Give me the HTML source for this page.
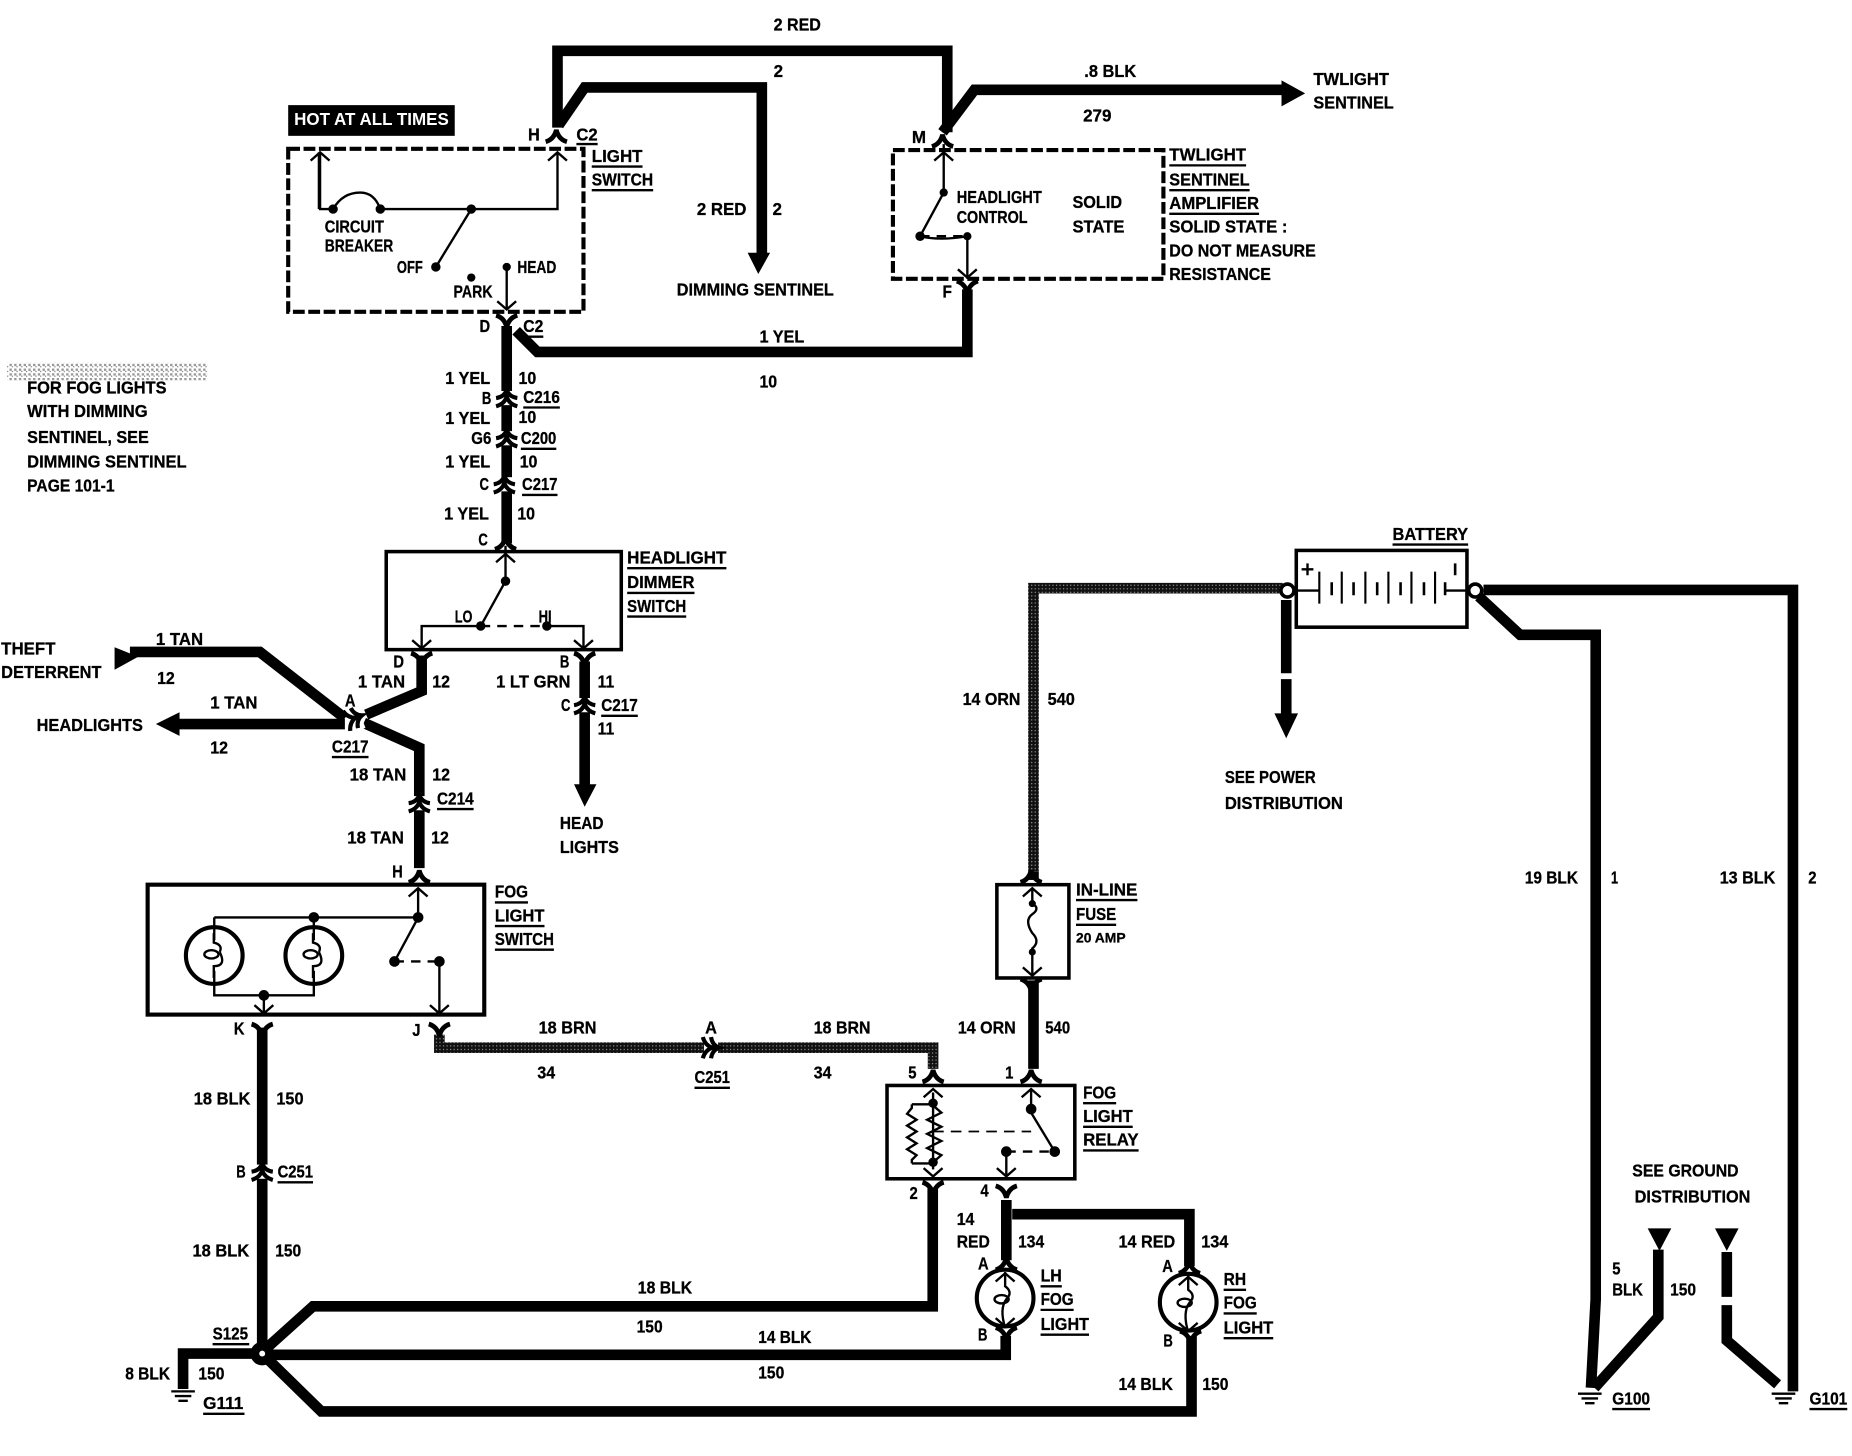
<!DOCTYPE html>
<html><head><meta charset="utf-8"><style>
html,body{margin:0;padding:0;background:#fff}
svg{display:block}
text{font-family:"Liberation Sans",sans-serif;font-weight:bold;font-size:15px;fill:#000;stroke:#000;stroke-width:.25px}
</style></head><body>
<svg width="1852" height="1456" viewBox="0 0 1568 1232.7" xmlns="http://www.w3.org/2000/svg">
<defs>
<pattern id="dz" width="3" height="3" patternUnits="userSpaceOnUse"><rect width="3" height="3" fill="#111"/><rect width="1" height="1" fill="#999"/></pattern>
<pattern id="np" width="4" height="4" patternUnits="userSpaceOnUse"><rect width="4" height="4" fill="#fff"/><rect width="2" height="2" fill="#999"/><rect x="2" y="2" width="1" height="1" fill="#777"/></pattern>
<path id="fd" d="M-9 6Q-2 4 0-4Q2 4 9 6" fill="none" stroke="#000" stroke-width="4"/>
<path id="fu" d="M-9-6Q-2-4 0 4Q2-4 9-6" fill="none" stroke="#000" stroke-width="4"/>
<g id="cn"><rect x="-11" y="-6" width="22" height="12" fill="#fff"/><path d="M-9 0Q-2-1 0-7Q2-1 9 0M-9 7Q-2 5 0-1Q2 5 9 7" fill="none" stroke="#000" stroke-width="3.5"/></g>
<path id="au" d="M-8 7L0 0L8 7" fill="none" stroke="#000" stroke-width="2"/>
<path id="ad" d="M-8-7L0 0L8-7" fill="none" stroke="#000" stroke-width="2"/>
<path id="gnd" d="M-10 0H10M-7 4H7M-4 8H4" fill="none" stroke="#000" stroke-width="2"/>
</defs>

<!-- main wires -->
<g fill="none" stroke="#000" stroke-width="9" stroke-linejoin="miter">
<path d="M472 108V43H802V112"/>
<path d="M473 106L495 74H645V215"/>
<path d="M798 112L825 76H1088"/>
<path d="M819 245V298H455L437 280"/>
<path d="M429 276V460" />
<path d="M357 555V585L310 605"/>
<path d="M110 552H220L292 608"/>
<path d="M148 613H292"/>
<path d="M308 612L355 633V735"/>
<path d="M495 560V665"/>
<path d="M222 870V1140"/>
<path d="M789.700 1006V1106H265L225 1142"/>
<path d="M852 1016V1067"/>
<path d="M857 1028H1007V1072"/>
<path d="M851.500 1131V1147H225"/>
<path d="M1008.800 1131V1195H272L226 1150"/>
<path d="M222 1146H155V1176"/>
<path d="M875 830V905"/>
<path d="M875 738V745"/>
<path d="M1256 499.500H1518V1178"/>
<path d="M1252 505L1287 537.500H1351V1100L1347 1175"/>
<path d="M1404 1058V1115L1350 1175"/>
<path d="M1462 1060V1098M1462 1105V1135L1505 1172"/>
<path d="M1089 508V570M1089 575V605"/>
</g>
<g fill="none" stroke="url(#dz)" stroke-width="9">
<path d="M1086 498H875V738"/>
<path d="M372 876V887H790V905"/>
</g>

<!-- arrowheads / triangles -->
<path d="M1085 68L1105 79L1085 90ZM633 214H652L642 232ZM1079 604H1099L1089 625ZM486 664H505L495 683ZM132 613L152 603V623ZM97 548L117 556L97 567ZM1395 1040H1415L1405 1059ZM1452 1040H1472L1462 1059Z" fill="#000"/>

<!-- HOT -->
<rect x="244" y="89" width="141" height="26" fill="#000"/>
<text x="249" y="106" textLength="131" lengthAdjust="spacingAndGlyphs" style="fill:#fff;stroke:none">HOT AT ALL TIMES</text>

<!-- dashed boxes -->
<g fill="none" stroke="#000" stroke-width="3.500" stroke-dasharray="10 3">
<rect x="244" y="126" width="250" height="138"/>
<rect x="756" y="127" width="229" height="109"/>
</g>
<!-- solid boxes -->
<g fill="none" stroke="#000" stroke-width="3">
<rect x="327" y="467" width="199" height="83"/>
<rect x="125" y="749" width="285" height="110" stroke-width="3.500"/>
<rect x="844" y="749" width="61" height="79"/>
<rect x="751" y="919" width="159" height="79"/>
<rect x="1097.500" y="466" width="144.500" height="65"/>
</g>

<!-- thin internals -->
<g fill="none" stroke="#000" stroke-width="2">
<path d="M271 129V177H282Q290 163 305 163Q317 163 322 177H472V129"/>
<path d="M399 177L369 226"/>
<path d="M429 226V262"/>
<path d="M799 122V163L779 200"/>
<path d="M779 200Q795 204 819 200V236"/>
<path d="M428 462V492L407 530"/>
<path d="M357 550V530H407M494 550V530H463"/>
<path d="M354 752V777M181.400 776.700H354M181.400 776.700V796M265.700 776.700V796M181.400 822V842.700H265.700V822M223.400 842.700V858"/>
<path d="M181 790V798Q189 800 186 806M181 828V818Q192 818 186 806M265 790V798Q273 800 270 806M265 828V818Q276 818 270 806"/>
<path d="M354 777L334 814"/>
<path d="M372 814V858"/>
<path d="M874 752V765Q881 769 874 774Q867 779 874 790Q881 797 874 803V826"/>
<path d="M790 925V990M772 935H790M772 985H790M772 935V938L768 943L776 948L768 953L776 958L768 963L776 968L768 973L776 978L772 982V985"/>
<path d="M790 936L797 942L785 948L797 954L785 960L797 966L785 972L797 978L790 984"/>
<path d="M873 922V942L893 975"/>
<path d="M852 975V996"/>
<path d="M851 1077V1089Q858 1094 852 1100Q846 1108 851 1124"/>
<path d="M1006 1079V1092Q1013 1097 1007 1103Q1001 1111 1006 1128"/>
<path d="M1098 500H1117M1224 500H1243"/>
<path d="M270 129V177"/>
</g>
<path d="M790 958H873" fill="none" stroke="#000" stroke-width="1.500" stroke-dasharray="9 6"/>
<path d="M334 814H372M852 975H893M407 530H463M779 200H819" fill="none" stroke="#000" stroke-width="2" stroke-dasharray="8 6"/>

<!-- lamps -->
<g fill="none" stroke="#000" stroke-width="3.500">
<circle cx="181.400" cy="809" r="24"/><circle cx="265.700" cy="809" r="24"/>
<circle cx="851" cy="1099" r="24"/><circle cx="1006" cy="1102.500" r="24"/>
</g>
<g fill="none" stroke="#000" stroke-width="2">
<ellipse cx="179" cy="808" rx="6" ry="3.500"/><ellipse cx="263" cy="808" rx="6" ry="3.500"/>
<ellipse cx="848" cy="1100" rx="6" ry="3.500"/><ellipse cx="1003" cy="1103" rx="6" ry="3.500"/>
</g>

<!-- dots -->
<g fill="#000">
<circle cx="282" cy="177" r="4"/><circle cx="322" cy="177" r="4"/><circle cx="399" cy="177" r="4"/><circle cx="369" cy="226" r="4"/><circle cx="429" cy="226" r="3.500"/><circle cx="399" cy="235" r="3.500"/>
<circle cx="799" cy="163" r="3.500"/><circle cx="779" cy="200" r="4"/><circle cx="819" cy="200" r="3.500"/>
<circle cx="428" cy="492" r="4"/><circle cx="407" cy="530" r="4"/><circle cx="463" cy="530" r="4"/>
<circle cx="265.700" cy="776.700" r="4.500"/><circle cx="354" cy="776.700" r="4.500"/><circle cx="223.400" cy="842.700" r="4.500"/><circle cx="334" cy="814" r="4.500"/><circle cx="372" cy="814" r="4.500"/>
<circle cx="874" cy="765" r="3"/><circle cx="874" cy="806" r="3"/>
<circle cx="790" cy="934" r="4"/><circle cx="790" cy="984" r="4"/><circle cx="873" cy="939" r="4.500"/><circle cx="893" cy="975" r="4.500"/><circle cx="852" cy="975" r="4.500"/>
<circle cx="222" cy="1146" r="10"/>
</g>
<circle cx="222" cy="1146" r="2.500" fill="#fff"/>
<circle cx="1090" cy="500" r="5.500" fill="#fff" stroke="#000" stroke-width="3"/>
<circle cx="1249" cy="500" r="5.500" fill="#fff" stroke="#000" stroke-width="3"/>

<!-- battery cells -->
<path d="M1117 484V511M1136 484V511M1156 484V511M1175.500 484V511M1195 484V511M1215 484V511" stroke="#000" stroke-width="1.800" fill="none"/>
<path d="M1127.500 493V504M1146 493V504M1166 493V504M1185.800 493V504M1205.600 493V504M1223.500 493V504M1232 477V487" stroke="#000" stroke-width="2.200" fill="none"/>
<path d="M1102 482H1112M1107 477V487" stroke="#000" stroke-width="2" fill="none"/>

<!-- connectors -->
<use href="#fd" x="471" y="114"/><use href="#fd" x="798" y="118"/>
<use href="#fu" x="819" y="244"/><use href="#fu" x="429" y="273"/>
<use href="#cn" x="429" y="337"/><use href="#cn" x="429" y="371"/><use href="#cn" x="427" y="410"/>
<use href="#fd" x="428" y="459"/>
<use href="#fu" x="357" y="559"/><use href="#fu" x="495" y="559"/>
<use href="#cn" x="495" y="597"/><use href="#cn" x="355" y="680"/>
<use href="#fd" x="355" y="741"/>
<use href="#fu" x="222" y="873"/><use href="#fu" x="372" y="873"/>
<use href="#cn" x="222" y="992"/>
<use href="#fd" x="873" y="741"/><use href="#fu" x="873" y="835"/>
<use href="#fd" x="790" y="910"/><use href="#fd" x="873" y="910"/>
<use href="#fu" x="790" y="1007"/><use href="#fu" x="852" y="1010"/>
<use href="#fd" x="852" y="1069"/><use href="#fd" x="1007" y="1072"/>
<use href="#fu" x="852" y="1130"/><use href="#fu" x="1008" y="1133"/>
<use href="#cn" transform="translate(602 887) rotate(90)"/>
<use href="#cn" transform="translate(300 608) rotate(70)"/>

<!-- chevrons inside boxes -->
<use href="#au" x="271" y="129"/><use href="#au" x="472" y="129"/><use href="#ad" x="429" y="262"/>
<use href="#au" x="799" y="129"/><use href="#ad" x="819" y="235"/>
<use href="#au" x="428" y="469"/><use href="#ad" x="357" y="549"/><use href="#ad" x="494" y="549"/>
<use href="#au" x="354" y="752"/><use href="#ad" x="223.400" y="858"/><use href="#ad" x="372" y="858"/>
<use href="#au" x="874" y="752"/><use href="#ad" x="874" y="826"/>
<use href="#au" x="790" y="922"/><use href="#au" x="873" y="922"/><use href="#ad" x="790" y="996"/><use href="#ad" x="852" y="996"/>
<use href="#au" x="851" y="1078"/><use href="#ad" x="851" y="1123"/><use href="#au" x="1006" y="1081"/><use href="#ad" x="1006" y="1127"/>

<!-- grounds -->
<use href="#gnd" x="155" y="1178"/><use href="#gnd" x="1346" y="1180"/><use href="#gnd" x="1510" y="1180"/>

<!-- grey patch -->
<rect x="6" y="307" width="170" height="15" fill="url(#np)"/>

<!-- underlines -->
<path d="M488 122H506M501 141H544M501 161H553M443 285H460M443 345H474M441 380H471M442 419H472M990 140H1055M990 161H1058M990 181H1066M531 481H615M531 502H588M531 522H581M509 606H540M281 641H312M370 685H401M419 764H447M419 784H461M419 804H469M235 1001H265M588 921H618M911 762H963M911 783H945M917 934H945M917 954H959M917 974H964M881 1089H899M881 1109H909M881 1130H922M1036 1092H1055M1036 1112H1064M1036 1133H1078M180 1138H211M172 1197H207M1179 461H1243M1365 1193H1397M1532 1193H1564" stroke="#000" stroke-width="2" fill="none"/>

<!-- labels -->
<text x="655" y="26" textLength="40" lengthAdjust="spacingAndGlyphs">2 RED</text>
<text x="655" y="65" textLength="8" lengthAdjust="spacingAndGlyphs">2</text>
<text x="918" y="65" textLength="44" lengthAdjust="spacingAndGlyphs">.8 BLK</text>
<text x="917" y="103" textLength="24" lengthAdjust="spacingAndGlyphs">279</text>
<text x="1112" y="72" textLength="64" lengthAdjust="spacingAndGlyphs">TWLIGHT</text>
<text x="1112" y="92" textLength="68" lengthAdjust="spacingAndGlyphs">SENTINEL</text>
<text x="447" y="119" textLength="10" lengthAdjust="spacingAndGlyphs">H</text>
<text x="488" y="119" textLength="18" lengthAdjust="spacingAndGlyphs">C2</text>
<text x="501" y="137" textLength="43" lengthAdjust="spacingAndGlyphs">LIGHT</text>
<text x="501" y="157" textLength="52" lengthAdjust="spacingAndGlyphs">SWITCH</text>
<text x="275" y="197" textLength="50" lengthAdjust="spacingAndGlyphs">CIRCUIT</text>
<text x="275" y="213" textLength="58" lengthAdjust="spacingAndGlyphs">BREAKER</text>
<text x="336" y="231" textLength="22" lengthAdjust="spacingAndGlyphs">OFF</text>
<text x="438" y="231" textLength="33" lengthAdjust="spacingAndGlyphs">HEAD</text>
<text x="384" y="252" textLength="33" lengthAdjust="spacingAndGlyphs">PARK</text>
<text x="590" y="182" textLength="42" lengthAdjust="spacingAndGlyphs">2 RED</text>
<text x="654" y="182" textLength="8" lengthAdjust="spacingAndGlyphs">2</text>
<text x="573" y="250" textLength="133" lengthAdjust="spacingAndGlyphs">DIMMING SENTINEL</text>
<text x="772" y="121" textLength="12" lengthAdjust="spacingAndGlyphs">M</text>
<text x="810" y="172" textLength="72" lengthAdjust="spacingAndGlyphs">HEADLIGHT</text>
<text x="810" y="189" textLength="60" lengthAdjust="spacingAndGlyphs">CONTROL</text>
<text x="908" y="176" textLength="42" lengthAdjust="spacingAndGlyphs">SOLID</text>
<text x="908" y="197" textLength="44" lengthAdjust="spacingAndGlyphs">STATE</text>
<text x="990" y="136" textLength="65" lengthAdjust="spacingAndGlyphs">TWLIGHT</text>
<text x="990" y="157" textLength="68" lengthAdjust="spacingAndGlyphs">SENTINEL</text>
<text x="990" y="177" textLength="76" lengthAdjust="spacingAndGlyphs">AMPLIFIER</text>
<text x="990" y="197" textLength="100" lengthAdjust="spacingAndGlyphs">SOLID STATE :</text>
<text x="990" y="217" textLength="124" lengthAdjust="spacingAndGlyphs">DO NOT MEASURE</text>
<text x="990" y="237" textLength="86" lengthAdjust="spacingAndGlyphs">RESISTANCE</text>
<text x="798" y="252" textLength="8" lengthAdjust="spacingAndGlyphs">F</text>
<text x="406" y="281" textLength="9" lengthAdjust="spacingAndGlyphs">D</text>
<text x="443" y="281" textLength="17" lengthAdjust="spacingAndGlyphs">C2</text>
<text x="643" y="290" textLength="38" lengthAdjust="spacingAndGlyphs">1 YEL</text>
<text x="643" y="328" textLength="15" lengthAdjust="spacingAndGlyphs">10</text>
<text x="377" y="325" textLength="38" lengthAdjust="spacingAndGlyphs">1 YEL</text>
<text x="439" y="325" textLength="15" lengthAdjust="spacingAndGlyphs">10</text>
<text x="408" y="342" textLength="8" lengthAdjust="spacingAndGlyphs">B</text>
<text x="443" y="341" textLength="31" lengthAdjust="spacingAndGlyphs">C216</text>
<text x="377" y="359" textLength="38" lengthAdjust="spacingAndGlyphs">1 YEL</text>
<text x="439" y="358" textLength="15" lengthAdjust="spacingAndGlyphs">10</text>
<text x="399" y="376" textLength="17" lengthAdjust="spacingAndGlyphs">G6</text>
<text x="441" y="376" textLength="30" lengthAdjust="spacingAndGlyphs">C200</text>
<text x="377" y="396" textLength="38" lengthAdjust="spacingAndGlyphs">1 YEL</text>
<text x="440" y="396" textLength="15" lengthAdjust="spacingAndGlyphs">10</text>
<text x="406" y="415" textLength="8" lengthAdjust="spacingAndGlyphs">C</text>
<text x="442" y="415" textLength="30" lengthAdjust="spacingAndGlyphs">C217</text>
<text x="376" y="440" textLength="38" lengthAdjust="spacingAndGlyphs">1 YEL</text>
<text x="438" y="440" textLength="15" lengthAdjust="spacingAndGlyphs">10</text>
<text x="405" y="462" textLength="8" lengthAdjust="spacingAndGlyphs">C</text>
<text x="531" y="477" textLength="84" lengthAdjust="spacingAndGlyphs">HEADLIGHT</text>
<text x="531" y="498" textLength="57" lengthAdjust="spacingAndGlyphs">DIMMER</text>
<text x="531" y="518" textLength="50" lengthAdjust="spacingAndGlyphs">SWITCH</text>
<text x="385" y="527" textLength="15" lengthAdjust="spacingAndGlyphs">LO</text>
<text x="456" y="527" textLength="11" lengthAdjust="spacingAndGlyphs">HI</text>
<text x="23" y="333" textLength="118" lengthAdjust="spacingAndGlyphs">FOR FOG LIGHTS</text>
<text x="23" y="353" textLength="102" lengthAdjust="spacingAndGlyphs">WITH DIMMING</text>
<text x="23" y="375" textLength="103" lengthAdjust="spacingAndGlyphs">SENTINEL, SEE</text>
<text x="23" y="396" textLength="135" lengthAdjust="spacingAndGlyphs">DIMMING SENTINEL</text>
<text x="23" y="416" textLength="74" lengthAdjust="spacingAndGlyphs">PAGE 101-1</text>
<text x="1" y="554" textLength="46" lengthAdjust="spacingAndGlyphs">THEFT</text>
<text x="1" y="574" textLength="85" lengthAdjust="spacingAndGlyphs">DETERRENT</text>
<text x="132" y="546" textLength="40" lengthAdjust="spacingAndGlyphs">1 TAN</text>
<text x="133" y="579" textLength="15" lengthAdjust="spacingAndGlyphs">12</text>
<text x="31" y="619" textLength="90" lengthAdjust="spacingAndGlyphs">HEADLIGHTS</text>
<text x="178" y="600" textLength="40" lengthAdjust="spacingAndGlyphs">1 TAN</text>
<text x="178" y="638" textLength="15" lengthAdjust="spacingAndGlyphs">12</text>
<text x="292" y="598" textLength="9" lengthAdjust="spacingAndGlyphs">A</text>
<text x="281" y="637" textLength="31" lengthAdjust="spacingAndGlyphs">C217</text>
<text x="333" y="565" textLength="9" lengthAdjust="spacingAndGlyphs">D</text>
<text x="474" y="565" textLength="8" lengthAdjust="spacingAndGlyphs">B</text>
<text x="303" y="582" textLength="40" lengthAdjust="spacingAndGlyphs">1 TAN</text>
<text x="366" y="582" textLength="15" lengthAdjust="spacingAndGlyphs">12</text>
<text x="420" y="582" textLength="63" lengthAdjust="spacingAndGlyphs">1 LT GRN</text>
<text x="506" y="582" textLength="14" lengthAdjust="spacingAndGlyphs">11</text>
<text x="475" y="602" textLength="8" lengthAdjust="spacingAndGlyphs">C</text>
<text x="509" y="602" textLength="31" lengthAdjust="spacingAndGlyphs">C217</text>
<text x="506" y="622" textLength="14" lengthAdjust="spacingAndGlyphs">11</text>
<text x="474" y="702" textLength="37" lengthAdjust="spacingAndGlyphs">HEAD</text>
<text x="474" y="722" textLength="50" lengthAdjust="spacingAndGlyphs">LIGHTS</text>
<text x="296" y="661" textLength="48" lengthAdjust="spacingAndGlyphs">18 TAN</text>
<text x="366" y="661" textLength="15" lengthAdjust="spacingAndGlyphs">12</text>
<text x="370" y="681" textLength="31" lengthAdjust="spacingAndGlyphs">C214</text>
<text x="294" y="714" textLength="48" lengthAdjust="spacingAndGlyphs">18 TAN</text>
<text x="365" y="714" textLength="15" lengthAdjust="spacingAndGlyphs">12</text>
<text x="332" y="743" textLength="9" lengthAdjust="spacingAndGlyphs">H</text>
<text x="419" y="760" textLength="28" lengthAdjust="spacingAndGlyphs">FOG</text>
<text x="419" y="780" textLength="42" lengthAdjust="spacingAndGlyphs">LIGHT</text>
<text x="419" y="800" textLength="50" lengthAdjust="spacingAndGlyphs">SWITCH</text>
<text x="198" y="876" textLength="9" lengthAdjust="spacingAndGlyphs">K</text>
<text x="349" y="877" textLength="7" lengthAdjust="spacingAndGlyphs">J</text>
<text x="456" y="875" textLength="49" lengthAdjust="spacingAndGlyphs">18 BRN</text>
<text x="597" y="875" textLength="10" lengthAdjust="spacingAndGlyphs">A</text>
<text x="689" y="875" textLength="48" lengthAdjust="spacingAndGlyphs">18 BRN</text>
<text x="455" y="913" textLength="15" lengthAdjust="spacingAndGlyphs">34</text>
<text x="588" y="917" textLength="30" lengthAdjust="spacingAndGlyphs">C251</text>
<text x="689" y="913" textLength="15" lengthAdjust="spacingAndGlyphs">34</text>
<text x="811" y="875" textLength="49" lengthAdjust="spacingAndGlyphs">14 ORN</text>
<text x="885" y="875" textLength="21" lengthAdjust="spacingAndGlyphs">540</text>
<text x="769" y="913" textLength="7" lengthAdjust="spacingAndGlyphs">5</text>
<text x="851" y="913" textLength="7" lengthAdjust="spacingAndGlyphs">1</text>
<text x="815" y="597" textLength="49" lengthAdjust="spacingAndGlyphs">14 ORN</text>
<text x="887" y="597" textLength="23" lengthAdjust="spacingAndGlyphs">540</text>
<text x="911" y="758" textLength="52" lengthAdjust="spacingAndGlyphs">IN-LINE</text>
<text x="911" y="779" textLength="34" lengthAdjust="spacingAndGlyphs">FUSE</text>
<text x="911" y="798" textLength="42" lengthAdjust="spacingAndGlyphs" style="font-size:12px">20 AMP</text>
<text x="164" y="935" textLength="48" lengthAdjust="spacingAndGlyphs">18 BLK</text>
<text x="234" y="935" textLength="23" lengthAdjust="spacingAndGlyphs">150</text>
<text x="200" y="997" textLength="8" lengthAdjust="spacingAndGlyphs">B</text>
<text x="235" y="997" textLength="30" lengthAdjust="spacingAndGlyphs">C251</text>
<text x="163" y="1064" textLength="48" lengthAdjust="spacingAndGlyphs">18 BLK</text>
<text x="233" y="1064" textLength="22" lengthAdjust="spacingAndGlyphs">150</text>
<text x="917" y="930" textLength="28" lengthAdjust="spacingAndGlyphs">FOG</text>
<text x="917" y="950" textLength="42" lengthAdjust="spacingAndGlyphs">LIGHT</text>
<text x="917" y="970" textLength="47" lengthAdjust="spacingAndGlyphs">RELAY</text>
<text x="770" y="1015" textLength="7" lengthAdjust="spacingAndGlyphs">2</text>
<text x="830" y="1013" textLength="7" lengthAdjust="spacingAndGlyphs">4</text>
<text x="810" y="1037" textLength="15" lengthAdjust="spacingAndGlyphs">14</text>
<text x="810" y="1056" textLength="28" lengthAdjust="spacingAndGlyphs">RED</text>
<text x="862" y="1056" textLength="22" lengthAdjust="spacingAndGlyphs">134</text>
<text x="947" y="1056" textLength="48" lengthAdjust="spacingAndGlyphs">14 RED</text>
<text x="1017" y="1056" textLength="23" lengthAdjust="spacingAndGlyphs">134</text>
<text x="828" y="1075" textLength="9" lengthAdjust="spacingAndGlyphs">A</text>
<text x="984" y="1077" textLength="9" lengthAdjust="spacingAndGlyphs">A</text>
<text x="828" y="1135" textLength="8" lengthAdjust="spacingAndGlyphs">B</text>
<text x="985" y="1140" textLength="8" lengthAdjust="spacingAndGlyphs">B</text>
<text x="881" y="1085" textLength="18" lengthAdjust="spacingAndGlyphs">LH</text>
<text x="881" y="1105" textLength="28" lengthAdjust="spacingAndGlyphs">FOG</text>
<text x="881" y="1126" textLength="41" lengthAdjust="spacingAndGlyphs">LIGHT</text>
<text x="1036" y="1088" textLength="19" lengthAdjust="spacingAndGlyphs">RH</text>
<text x="1036" y="1108" textLength="28" lengthAdjust="spacingAndGlyphs">FOG</text>
<text x="1036" y="1129" textLength="42" lengthAdjust="spacingAndGlyphs">LIGHT</text>
<text x="540" y="1095" textLength="46" lengthAdjust="spacingAndGlyphs">18 BLK</text>
<text x="539" y="1128" textLength="22" lengthAdjust="spacingAndGlyphs">150</text>
<text x="642" y="1137" textLength="45" lengthAdjust="spacingAndGlyphs">14 BLK</text>
<text x="642" y="1167" textLength="22" lengthAdjust="spacingAndGlyphs">150</text>
<text x="947" y="1177" textLength="46" lengthAdjust="spacingAndGlyphs">14 BLK</text>
<text x="1018" y="1177" textLength="22" lengthAdjust="spacingAndGlyphs">150</text>
<text x="180" y="1134" textLength="30" lengthAdjust="spacingAndGlyphs">S125</text>
<text x="106" y="1168" textLength="38" lengthAdjust="spacingAndGlyphs">8 BLK</text>
<text x="168" y="1168" textLength="22" lengthAdjust="spacingAndGlyphs">150</text>
<text x="172" y="1193" textLength="34" lengthAdjust="spacingAndGlyphs">G111</text>
<text x="1179" y="457" textLength="64" lengthAdjust="spacingAndGlyphs">BATTERY</text>
<text x="1037" y="663" textLength="77" lengthAdjust="spacingAndGlyphs">SEE POWER</text>
<text x="1037" y="685" textLength="100" lengthAdjust="spacingAndGlyphs">DISTRIBUTION</text>
<text x="1291" y="748" textLength="45" lengthAdjust="spacingAndGlyphs">19 BLK</text>
<text x="1364" y="748" textLength="6" lengthAdjust="spacingAndGlyphs">1</text>
<text x="1456" y="748" textLength="47" lengthAdjust="spacingAndGlyphs">13 BLK</text>
<text x="1531" y="748" textLength="7" lengthAdjust="spacingAndGlyphs">2</text>
<text x="1382" y="996" textLength="90" lengthAdjust="spacingAndGlyphs">SEE GROUND</text>
<text x="1384" y="1018" textLength="98" lengthAdjust="spacingAndGlyphs">DISTRIBUTION</text>
<text x="1365" y="1079" textLength="7" lengthAdjust="spacingAndGlyphs">5</text>
<text x="1365" y="1097" textLength="26" lengthAdjust="spacingAndGlyphs">BLK</text>
<text x="1414" y="1097" textLength="22" lengthAdjust="spacingAndGlyphs">150</text>
<text x="1365" y="1189" textLength="32" lengthAdjust="spacingAndGlyphs">G100</text>
<text x="1532" y="1189" textLength="32" lengthAdjust="spacingAndGlyphs">G101</text>
</svg>
</body></html>
